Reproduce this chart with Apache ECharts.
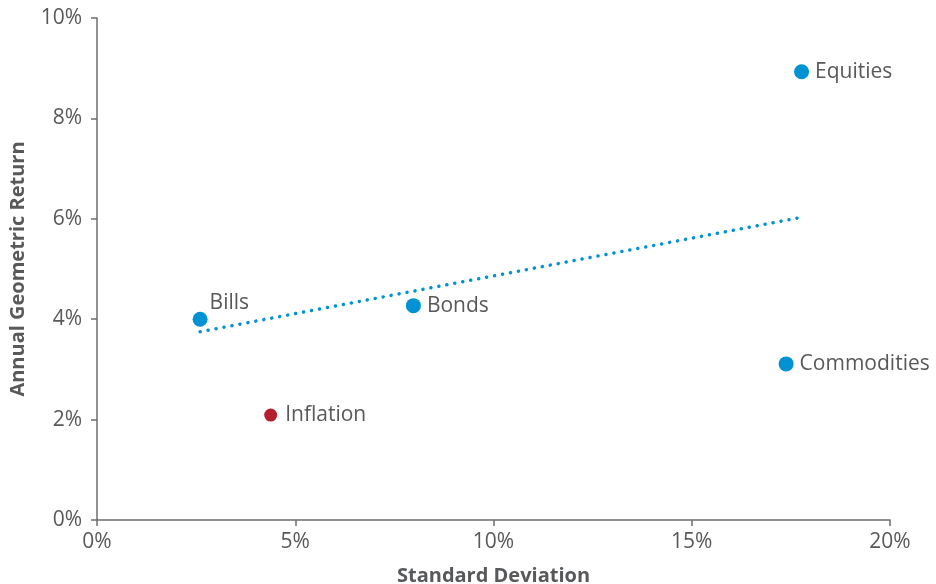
<!DOCTYPE html>
<html>
<head>
<meta charset="utf-8">
<script src="https://cdn.jsdelivr.net/npm/echarts@6/dist/echarts.min.js"></script>
<style>
  html, body { margin: 0; padding: 0; background: #fff; }
  #main { width: 936px; height: 584px; }
</style>
</head>
<body>
<div id="main"></div>
<script>
// asset classes: standard deviation (%) vs annual geometric return (%)
const assetNames = ['Bills', 'Bonds', 'Equities', 'Commodities'];
const assetStdDev = [2.6, 7.98, 17.77, 17.38];
const assetReturn = [4.0, 4.27, 8.93, 3.11];

const inflationName = ['Inflation'];
const inflationStdDev = [4.38];
const inflationReturn = [2.09];

// trend line end points
const trendStdDev = [2.6, 17.77];
const trendReturn = [3.75, 6.03];

const xTicks = [0, 5, 10, 15, 20];
const yTicks = [0, 2, 4, 6, 8, 10];

const blue = '#0092d2';
const red = '#b5202e';
const textColor = '#58595b';
const axisColor = '#6d6e70';
const font = 'Open Sans';

const chart = echarts.init(document.getElementById('main'));

const assetData = assetNames.map((n, i) => {
  const item = { name: n, value: [assetStdDev[i], assetReturn[i]] };
  if (n === 'Bills') {
    item.label = { position: 'right', distance: 2, offset: [0, -16] };
  }
  return item;
});
const inflationData = inflationName.map((n, i) => ({ name: n, value: [inflationStdDev[i], inflationReturn[i]] }));
const trendData = trendStdDev.map((x, i) => [x, trendReturn[i]]);

const option = {
  backgroundColor: '#fff',
  animation: false,
  grid: { left: 97, right: 46, top: 18, bottom: 64, outerBoundsMode: 'none', containLabel: false },
  xAxis: {
    type: 'value',
    min: xTicks[0],
    max: xTicks[xTicks.length - 1],
    interval: 5,
    name: 'Standard Deviation',
    nameLocation: 'middle',
    nameGap: 46,
    nameTextStyle: { color: textColor, fontFamily: font, fontWeight: 'bold', fontSize: 20 },
    axisLine: { show: true, lineStyle: { color: axisColor, width: 1.5 } },
    axisTick: { show: true, length: 6, lineStyle: { color: axisColor, width: 1.5 } },
    axisLabel: { color: textColor, fontFamily: font, fontSize: 21, margin: 12, formatter: '{value}%' },
    splitLine: { show: false }
  },
  yAxis: {
    type: 'value',
    min: yTicks[0],
    max: yTicks[yTicks.length - 1],
    interval: 2,
    name: 'Annual Geometric Return',
    nameLocation: 'middle',
    nameGap: 69,
    nameTextStyle: { color: textColor, fontFamily: font, fontWeight: 'bold', fontSize: 20 },
    axisLine: { show: true, lineStyle: { color: axisColor, width: 1.5 } },
    axisTick: { show: true, length: 6, lineStyle: { color: axisColor, width: 1.5 } },
    axisLabel: { color: textColor, fontFamily: font, fontSize: 21, margin: 15, formatter: '{value}%' },
    splitLine: { show: false }
  },
  series: [
    {
      type: 'line',
      data: trendData,
      symbol: 'none',
      lineStyle: { color: blue, width: 3.5, type: [0.1, 8], cap: 'round' },
      silent: true,
      z: 1
    },
    {
      type: 'scatter',
      data: assetData,
      symbolSize: 15,
      itemStyle: { color: blue, opacity: 1 },
      label: {
        show: true,
        formatter: '{b}',
        position: 'right',
        distance: 6,
        color: textColor,
        fontFamily: font,
        fontSize: 21
      },
      z: 3
    },
    {
      type: 'scatter',
      data: inflationData,
      symbolSize: 13,
      itemStyle: { color: red, opacity: 1 },
      label: {
        show: true,
        formatter: '{b}',
        position: 'right',
        distance: 8,
        color: textColor,
        fontFamily: font,
        fontSize: 21
      },
      z: 3
    }
  ]
};

chart.setOption(option);
</script>
</body>
</html>
